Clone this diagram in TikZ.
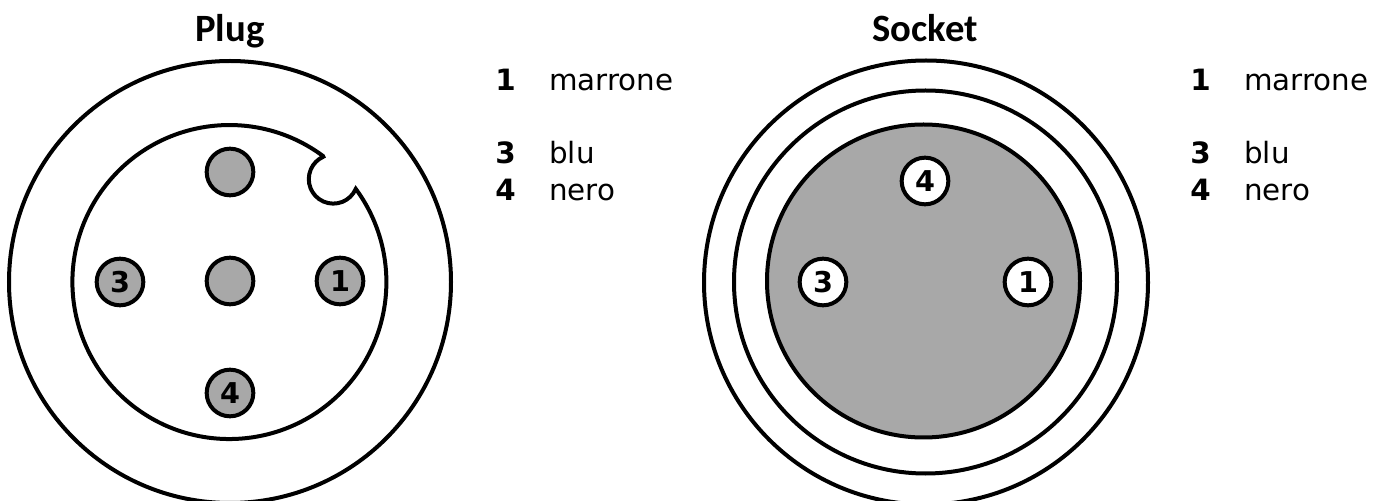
\documentclass[tikz,border=0pt]{standalone}
\usepackage{fontspec}
\setmainfont{DejaVu Sans}
\newfontfamily\titlefont{Carlito}
\tikzset{
  ring/.style={line width=3pt},
  pinbase/.style={circle,draw=black,line width=3pt,minimum size=35pt,inner sep=0pt,font=\bfseries\fontsize{21.5}{21.5}\selectfont},
  plugpin/.style={pinbase,fill=pingrey},
  sockpin/.style={pinbase,fill=white},
  heading/.style={font=\titlefont\bfseries\fontsize{29}{29}\selectfont,inner sep=0pt,anchor=base},
  keynum/.style={anchor=base west,inner sep=0pt,font=\bfseries\fontsize{22}{22}\selectfont},
  keyname/.style={anchor=base west,inner sep=0pt,font=\fontsize{22}{22}\selectfont},
}
\definecolor{pingrey}{gray}{0.66}
\begin{document}
\begin{tikzpicture}[x=.75pt,y=.75pt]
\useasboundingbox (0,0) rectangle (1389,500);
\begin{scope}
\clip (0,0) rectangle (1389,500);
% Plug
\draw[ring] (230,218) circle[radius=221];
\draw[ring,miter limit=10] (323,344) arc[start angle=53.4,end angle=396.4,radius=157]
  arc[start angle=336.5,end angle=114,radius=24.5] -- cycle;
% Socket
\draw[ring] (926,217.5) circle[radius=222];
\draw[ring] (925.5,218) circle[radius=191.5];
\draw[ring,fill=pingrey] (923.5,219) circle[radius=156.5];
\end{scope}
\node[plugpin] (p0) at (230,328) {};
\node[plugpin] (pc) at (230,219) {};
\node[plugpin] (p3) at (120,218) {3};
\node[plugpin] (p1) at (340,219) {1};
\node[plugpin] (p4) at (230,107) {4};
\node[sockpin] (s4) at (925,319) {4};
\node[sockpin] (s3) at (823,218) {3};
\node[sockpin] (s1) at (1028,218) {1};
\node[heading] (tp) at (230,458) {Plug};
\node[heading] (ts) at (925,458) {Socket};
\node[keynum] (a1) at (495,409) {1};
\node[keyname] (a1n) at (549,409) {marrone};
\node[keynum] (a3) at (495,336) {3};
\node[keyname] (a3n) at (549,336) {blu};
\node[keynum] (a4) at (495,299) {4};
\node[keyname] (a4n) at (549,299) {nero};
\node[keynum] (b1) at (1190,409) {1};
\node[keyname] (b1n) at (1244,409) {marrone};
\node[keynum] (b3) at (1190,336) {3};
\node[keyname] (b3n) at (1244,336) {blu};
\node[keynum] (b4) at (1190,299) {4};
\node[keyname] (b4n) at (1244,299) {nero};
\end{tikzpicture}
\end{document}
